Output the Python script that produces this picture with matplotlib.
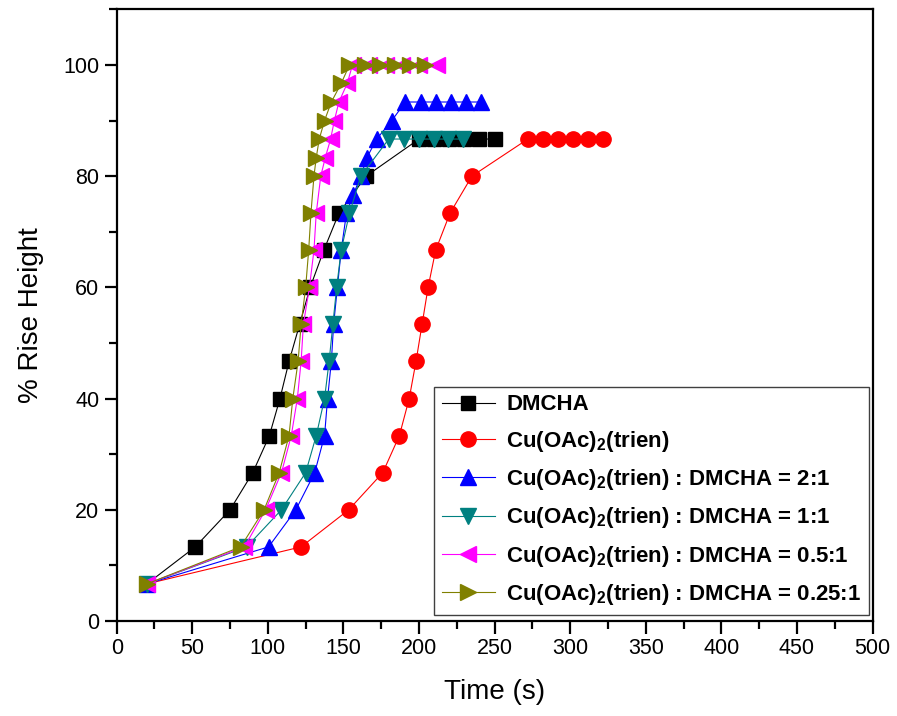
import matplotlib
matplotlib.use('Agg')
import matplotlib.pyplot as plt
from matplotlib.ticker import MultipleLocator

plt.rcParams['font.family'] = ['Liberation Sans', 'DejaVu Sans']
plt.rcParams['mathtext.fontset'] = 'custom'
plt.rcParams['mathtext.rm'] = 'Liberation Sans'
plt.rcParams['mathtext.bf'] = 'Liberation Sans:bold'

# rise heights sit on 1/15 steps (and 1/30 steps near the top)
lv = [6.67, 13.33, 20, 26.67, 33.33, 40, 46.67, 53.33, 60, 66.67, 73.33, 80]

dmcha_t = [20, 52, 75, 90, 101, 108, 114, 121, 128, 137, 147, 165,
           200, 210, 220, 230, 240, 250]
dmcha_v = lv + [86.67] * 6

cu_t = [20, 122, 153.5, 176, 187, 193.5, 198, 202, 206, 211, 220.5, 235,
        272, 282, 292, 302, 312, 322]
cu_v = lv + [86.67] * 6

r21_t = [20, 100.5, 118.5, 131, 137.5, 139.5, 142, 143.5, 146, 148.5, 152,
         156.5, 161.5, 165.5, 172, 182, 191, 201, 211, 221, 231, 241]
r21_v = lv[:11] + [76.67, 80, 83.33, 86.67, 90] + [93.33] * 6

r11_t = [20, 86, 109, 125, 132, 137.5, 140.5, 143, 145.5, 148.5, 154, 161.5,
         180, 190, 200, 210, 219, 229]
r11_v = lv + [86.67] * 6

r051_t = [20, 84.5, 98.5, 109, 115.5, 119.5, 122, 123.5, 127.5, 130.5, 132,
          135, 138, 141.5, 144, 147, 152.5, 156, 167, 178, 189, 200, 212]
r051_v = lv + [83.33, 86.67, 90, 93.33, 96.67] + [100] * 6

r0251_t = [20, 82, 97.5, 107.5, 114, 116.5, 120, 122, 125, 127, 128.5,
           130.5, 132, 134, 137.5, 142, 148.5, 154, 164, 174, 184, 194, 204]
r0251_v = lv + [83.33, 86.67, 90, 93.33, 96.67] + [100] * 6

cu = r'Cu(OAc)$_\mathbf{2}$(trien)'
labels = ['DMCHA', cu, cu + ' : DMCHA = 2:1', cu + ' : DMCHA = 1:1',
          cu + ' : DMCHA = 0.5:1', cu + ' : DMCHA = 0.25:1']

fig = plt.figure(figsize=(8.97, 7.16), dpi=100)
ax = fig.add_axes([0.1301, 0.1327, 0.8426, 0.8543])

lw = 0.8
ax.plot(dmcha_t, dmcha_v, color='black', lw=lw, marker='s', ms=10, label=labels[0])
ax.plot(cu_t, cu_v, color='#FF0000', lw=lw, marker='o', ms=11, label=labels[1])
ax.plot(r21_t, r21_v, color='#0000FF', lw=lw, marker='^', ms=12, label=labels[2])
ax.plot(r11_t, r11_v, color='#008080', lw=lw, marker='v', ms=12, label=labels[3])
ax.plot(r051_t, r051_v, color='#FF00FF', lw=lw, marker='<', ms=12, label=labels[4])
ax.plot(r0251_t, r0251_v, color='#808000', lw=lw, marker='>', ms=12, label=labels[5])

ax.set_xlim(0, 500)
ax.set_ylim(0, 110)
ax.xaxis.set_major_locator(MultipleLocator(50))
ax.xaxis.set_minor_locator(MultipleLocator(25))
ax.yaxis.set_major_locator(MultipleLocator(20))
ax.yaxis.set_minor_locator(MultipleLocator(10))
ax.set_yticks([0, 20, 40, 60, 80, 100])

for s in ax.spines.values():
    s.set_linewidth(1.6)
ax.tick_params(which='major', direction='out', length=9, width=1.6,
               labelsize=15.5, top=False, right=False)
ax.tick_params(which='minor', direction='out', length=5.5, width=1.6,
               top=False, right=False)

ax.set_xlabel('Time (s)', fontsize=20, labelpad=14)
ax.set_ylabel('% Rise Height', fontsize=20, labelpad=14)

leg = ax.legend(loc='lower right', bbox_to_anchor=(0.995, 0.01),
                borderaxespad=0,
                prop={'size': 16, 'weight': 'bold'}, fancybox=False,
                edgecolor='#404040', framealpha=1, handlelength=2.4,
                labelspacing=0.6, borderpad=0.35, handletextpad=0.5)
leg.get_frame().set_linewidth(1.0)

fig.savefig('out.png', dpi=100)
